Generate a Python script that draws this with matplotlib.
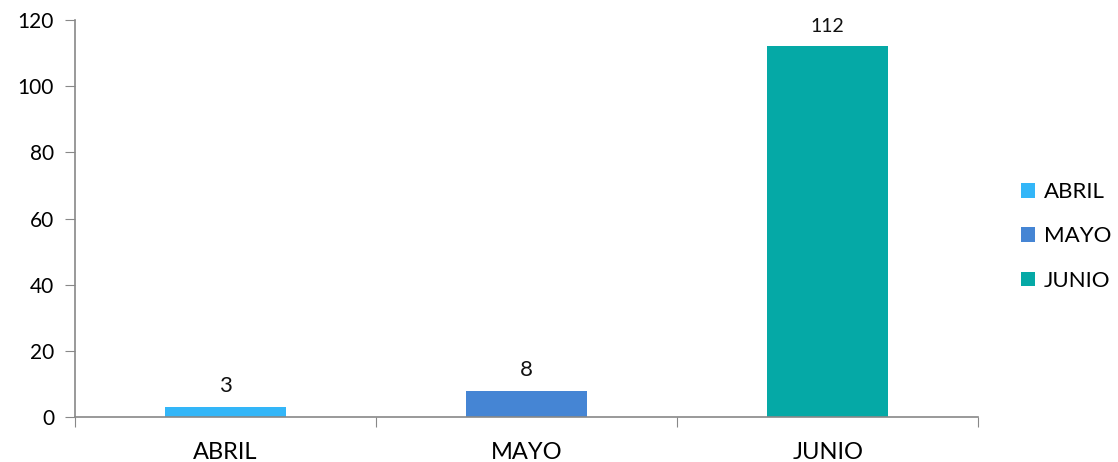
import matplotlib.pyplot as plt
import numpy as np

plt.rcParams['font.family'] = ['Lato', 'DejaVu Sans']

months = ["ABRIL", "MAYO", "JUNIO"]
values = [3, 8, 112]
colors = ["#33B6F8", "#4585D4", "#05A9A6"]

fig = plt.figure(figsize=(11.18, 4.62), dpi=100)
ax = fig.add_axes([0.067, 0.097, 0.808, 0.860])

x = np.arange(len(months))
bars = ax.bar(x, values, width=0.4, color=colors, label=months, zorder=2)

for xi, v in zip(x, values):
    ax.annotate(str(v), (xi, v), xytext=(0, 8), textcoords="offset points",
                ha="center", va="bottom", fontsize=16 if v < 100 else 14,
                color="#111111")

ax.set_xlim(-0.5, 2.5)
ax.set_ylim(0, 120)
ax.set_yticks(np.arange(0, 121, 20))
ax.set_xticks(np.arange(-0.5, 3, 1))
ax.set_xticklabels([])
ax.set_xticks(x, minor=True)
ax.set_xticklabels(months, minor=True)
ax.tick_params(axis="x", which="minor", length=0, labelsize=17, pad=18)
ax.tick_params(axis="x", which="major", length=7, color="#888888", direction="out")
ax.tick_params(axis="y", length=7, color="#888888", labelsize=15, pad=8)

for s in ["top", "right"]:
    ax.spines[s].set_visible(False)
for s in ["left", "bottom"]:
    ax.spines[s].set_color("#888888")
    ax.spines[s].set_linewidth(1.2)

ax.legend(handles=list(bars), labels=months, loc="center left",
          bbox_to_anchor=(1.037, 0.455), frameon=False, fontsize=16,
          handlelength=0.65, handleheight=0.65, handletextpad=0.4,
          labelspacing=1.1, borderaxespad=0)

fig.savefig("out.png", dpi=100)
